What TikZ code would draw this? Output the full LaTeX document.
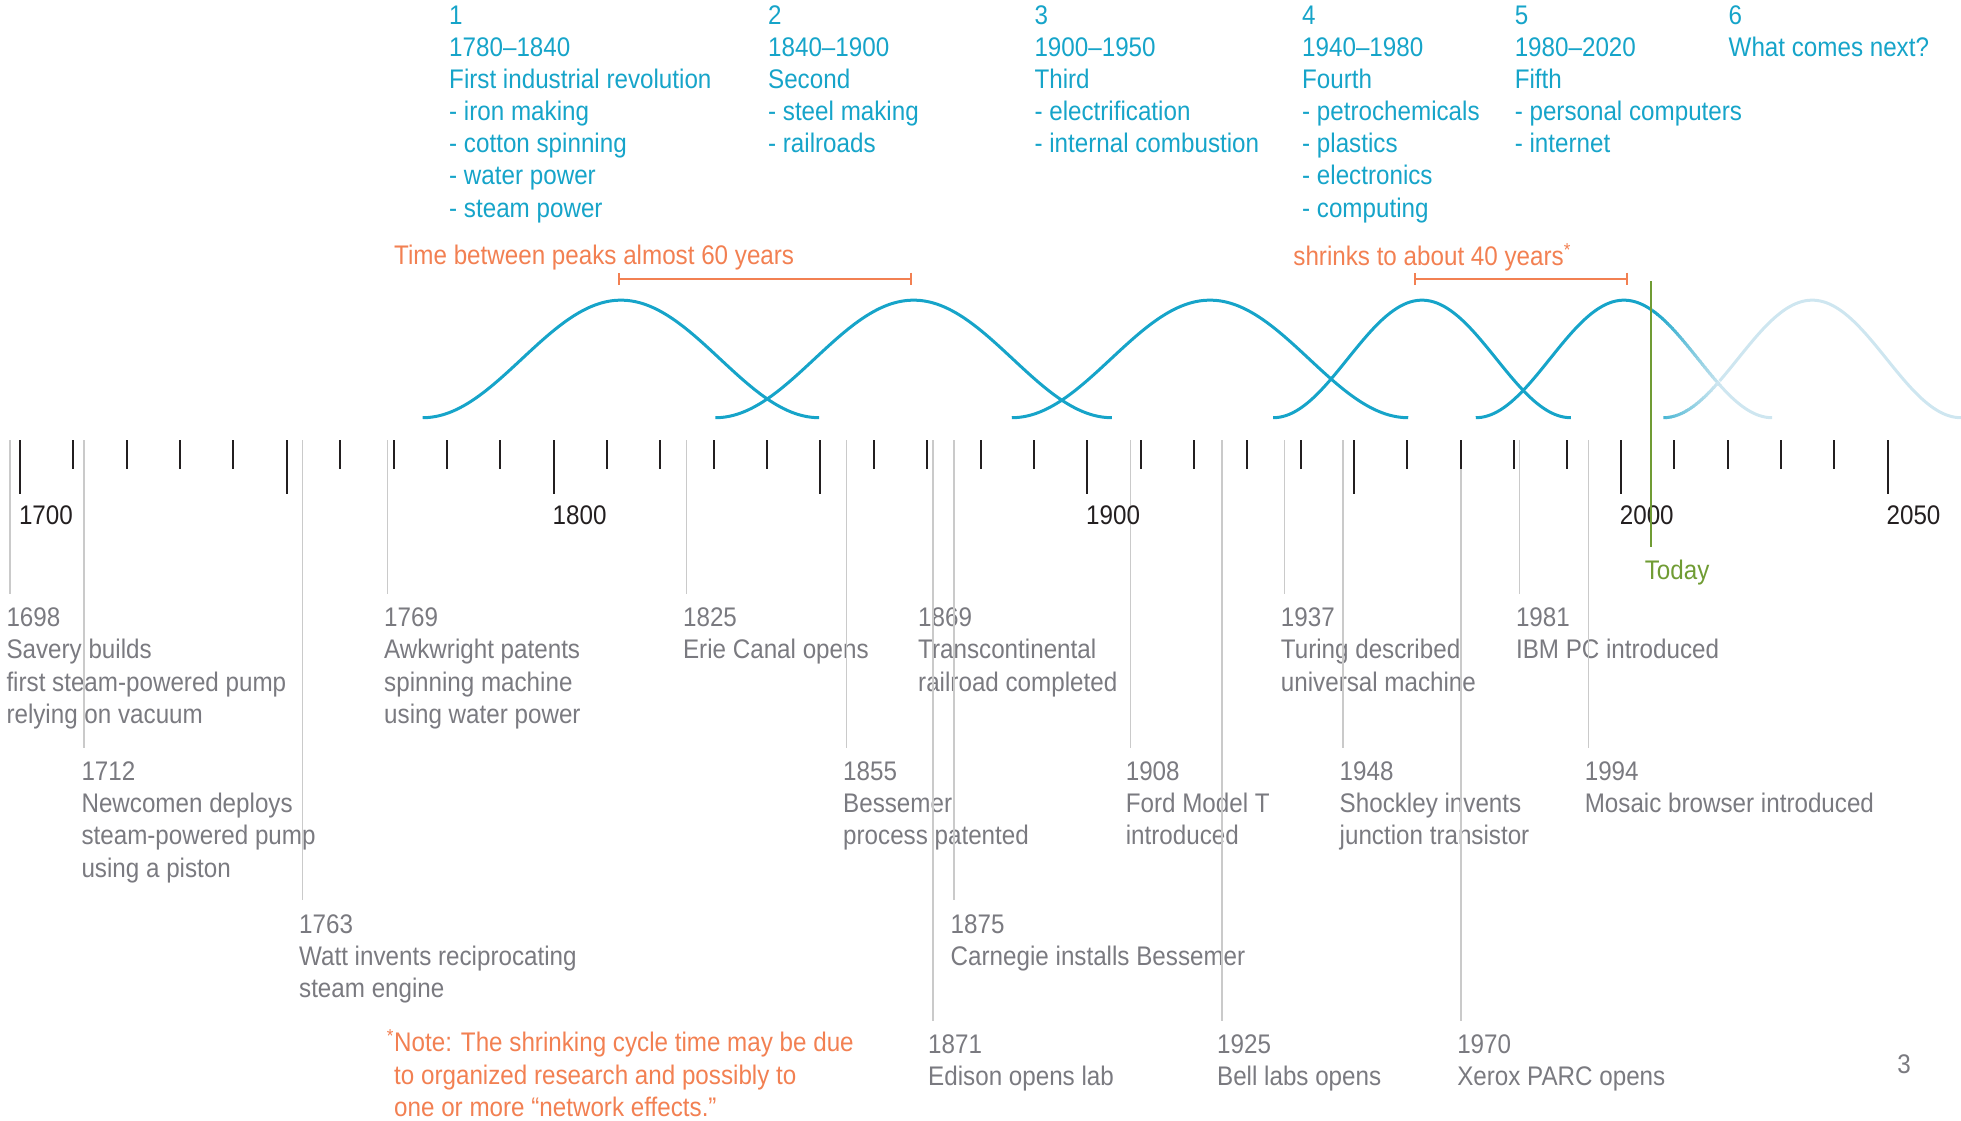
\documentclass[tikz,border=0pt]{standalone}
\usepackage{fontspec}
\setmainfont{Liberation Sans}[FakeStretch=0.9]
\usetikzlibrary{arrows.meta}

\definecolor{cyanC}{RGB}{22,164,201}
\definecolor{fadeC}{RGB}{206,230,240}
\definecolor{orngC}{RGB}{242,128,82}
\definecolor{gtextC}{RGB}{122,122,128}
\definecolor{glineC}{RGB}{202,202,202}
\definecolor{greenC}{RGB}{112,156,52}
\definecolor{tickC}{RGB}{35,31,32}

% zero-width strut: fixes the top of every label 17pt above its first baseline
\newcommand\topstrut{\rule{0pt}{17pt}}

\tikzset{
  txt/.style={inner sep=0pt, anchor=north west, align=left,
              font=\fontsize{21.5}{25.7}\selectfont},
  headtxt/.style={txt, text=cyanC},
  evtxt/.style={txt, text=gtextC},
  notetxt/.style={txt, text=orngC},
  yeartxt/.style={txt, text=tickC},
  bell/.style={line width=2.4pt, cyanC},
  evline/.style={line width=1.2pt, glineC},
  axtick/.style={line width=1.6pt, tickC},
  spanbar/.style={line width=1.6pt, orngC, {Bar[width=10pt]}-{Bar[width=10pt]}},
}

% event label with its guide line dropping from the axis
\newcommand\event[5]{%
  \node[evtxt] (#1) at (#2,#3-17) {\topstrut #5};
  \coordinate (#1a) at (#4,352);
  \path ([yshift=9pt]#1.north) coordinate (#1b);
  \draw[evline] (#1a) -- (#1a |- #1b);
}

\begin{document}
\begin{tikzpicture}[x=1pt,y=-1pt]
\useasboundingbox (0,0) rectangle (1568,896);

% ---------- era headings ----------
\node[headtxt] (h1) at (359,2.2) {\topstrut 1\\1780–1840\\First industrial revolution\\- iron making\\- cotton spinning\\- water power\\- steam power};
\node[headtxt] (h2) at (614,2.2) {\topstrut 2\\1840–1900\\Second\\- steel making\\- railroads};
\node[headtxt] (h3) at (827,2.2) {\topstrut 3\\1900–1950\\Third\\- electrification\\- internal combustion};
\node[headtxt] (h4) at (1041,2.2) {\topstrut 4\\1940–1980\\Fourth\\- petrochemicals\\- plastics\\- electronics\\- computing};
\node[headtxt] (h5) at (1211,2.2) {\topstrut 5\\1980–2020\\Fifth\\- personal computers\\- internet};
\node[headtxt] (h6) at (1382,2.2) {\topstrut 6\\What comes next?};

% ---------- cycle length annotations ----------
\node[notetxt] (span60) at (315,211.5-17) {\topstrut Time between peaks almost 60 years};
\node[notetxt] (span40) at (1034,211.5-17) {\topstrut shrinks to about 40 years\textsuperscript{*}};
\coordinate (b60a) at (494,223);
\coordinate (b60b) at (729,223);
\coordinate (b40a) at (1131,223);
\coordinate (b40b) at (1302,223);
\draw[spanbar] (b60a) -- (b60b);
\draw[spanbar] (b40a) -- (b40b);

% ---------- waves ----------
\foreach \xa/\xb in {338/655, 572/889, 809/1126, 1018/1256} {
  \draw[bell] plot[domain=\xa:\xb, samples=90, smooth]
    (\x,{334-47*(1-cos(360/(\xb-\xa)*(\x-\xa)))});
}
% fifth wave, solid up to today
\draw[bell] plot[domain=1180:1321, samples=60, smooth]
  (\x,{334-47*(1-cos(360/237*(\x-1180)))});
% fifth wave fading out past today
\foreach \a in {1321,1323,...,1373} {
  \pgfmathsetmacro\b{\a+2.6}
  \pgfmathtruncatemacro\p{100/54*(\a-1321)}
  \draw[line width=2.4pt, color=fadeC!\p!cyanC] plot[domain=\a:\b, samples=3]
    (\x,{334-47*(1-cos(360/237*(\x-1180)))});
}
\draw[line width=2.4pt, fadeC] plot[domain=1375:1417, samples=30, smooth]
  (\x,{334-47*(1-cos(360/237*(\x-1180)))});
% sixth wave, future
\foreach \a in {1330,1332,...,1373} {
  \pgfmathsetmacro\b{\a+2.6}
  \pgfmathtruncatemacro\p{min(100,100/60*(\a-1312))}
  \draw[line width=2.4pt, color=fadeC!\p!cyanC] plot[domain=\a:\b, samples=3]
    (\x,{334-47*(1-cos(360/238*(\x-1330)))});
}
\draw[line width=2.4pt, fadeC] plot[domain=1375:1568, samples=80, smooth]
  (\x,{334-47*(1-cos(360/238*(\x-1330)))});

% ---------- event labels and guide lines ----------
\event{e1698}{5}{501}{8}{1698\\Savery builds\\first steam-powered pump\\relying on vacuum}
\event{e1712}{65}{624}{67}{1712\\Newcomen deploys\\steam-powered pump\\using a piston}
\event{e1763}{239}{746}{242}{1763\\Watt invents reciprocating\\steam engine}
\event{e1769}{307}{501}{310}{1769\\Awkwright patents\\spinning machine\\using water power}
\event{e1825}{546}{501}{549}{1825\\Erie Canal opens}
\event{e1855}{674}{624}{677}{1855\\Bessemer\\process patented}
\node[evtxt] (e1869) at (734,501-17) {\topstrut 1869\\Transcontinental\\railroad completed};
\event{e1871}{742}{842}{746}{1871\\Edison opens lab}
\event{e1875}{760}{746}{763}{1875\\Carnegie installs Bessemer}
\event{e1908}{900}{624}{904}{1908\\Ford Model T\\introduced}
\event{e1925}{973}{842}{977}{1925\\Bell labs opens}
\event{e1937}{1024}{501}{1027}{1937\\Turing described\\universal machine}
\event{e1948}{1071}{624}{1074}{1948\\Shockley invents\\junction transistor}
\event{e1970}{1165}{842}{1168}{1970\\Xerox PARC opens}
\event{e1981}{1212}{501}{1215}{1981\\IBM PC introduced}
\event{e1994}{1267}{624}{1270}{1994\\Mosaic browser introduced}

% ---------- time axis ----------
\foreach \yr in {1700,1710,...,2050} {
  \pgfmathsetmacro\tx{16+4.266667*(\yr-1700)}
  \pgfmathtruncatemacro\m{mod(\yr,50)}
  \ifnum\m=0
    \draw[axtick] (\tx,352) -- (\tx,395);
  \else
    \draw[axtick] (\tx,352) -- (\tx,375);
  \fi
}
\node[yeartxt] (y1700) at (15,419-17) {\topstrut 1700};
\node[yeartxt] (y1800) at (441.7,419-17) {\topstrut 1800};
\node[yeartxt] (y1900) at (868.3,419-17) {\topstrut 1900};
\node[yeartxt] (y2000) at (1295,419-17) {\topstrut 2000};
\node[yeartxt] (y2050) at (1508.3,419-17) {\topstrut 2050};

% ---------- today marker ----------
\node[txt, text=greenC] (today) at (1315,463-17) {\topstrut Today};
\coordinate (todaytop) at (1320,225);
\path ([yshift=9pt]today.north west) ++(5,0) coordinate (todayend);
\draw[line width=1.6pt, greenC] (todaytop) -- (todaytop |- todayend);

% ---------- footnote and page number ----------
\node[notetxt] (note) at (315,840-17) {\topstrut\llap{\textsuperscript{*}}Note: The shrinking cycle time may be due\\to organized research and possibly to\\one or more “network effects.”};
\node[evtxt] (pageno) at (1517,858-17) {\topstrut 3};

\end{tikzpicture}
\end{document}
